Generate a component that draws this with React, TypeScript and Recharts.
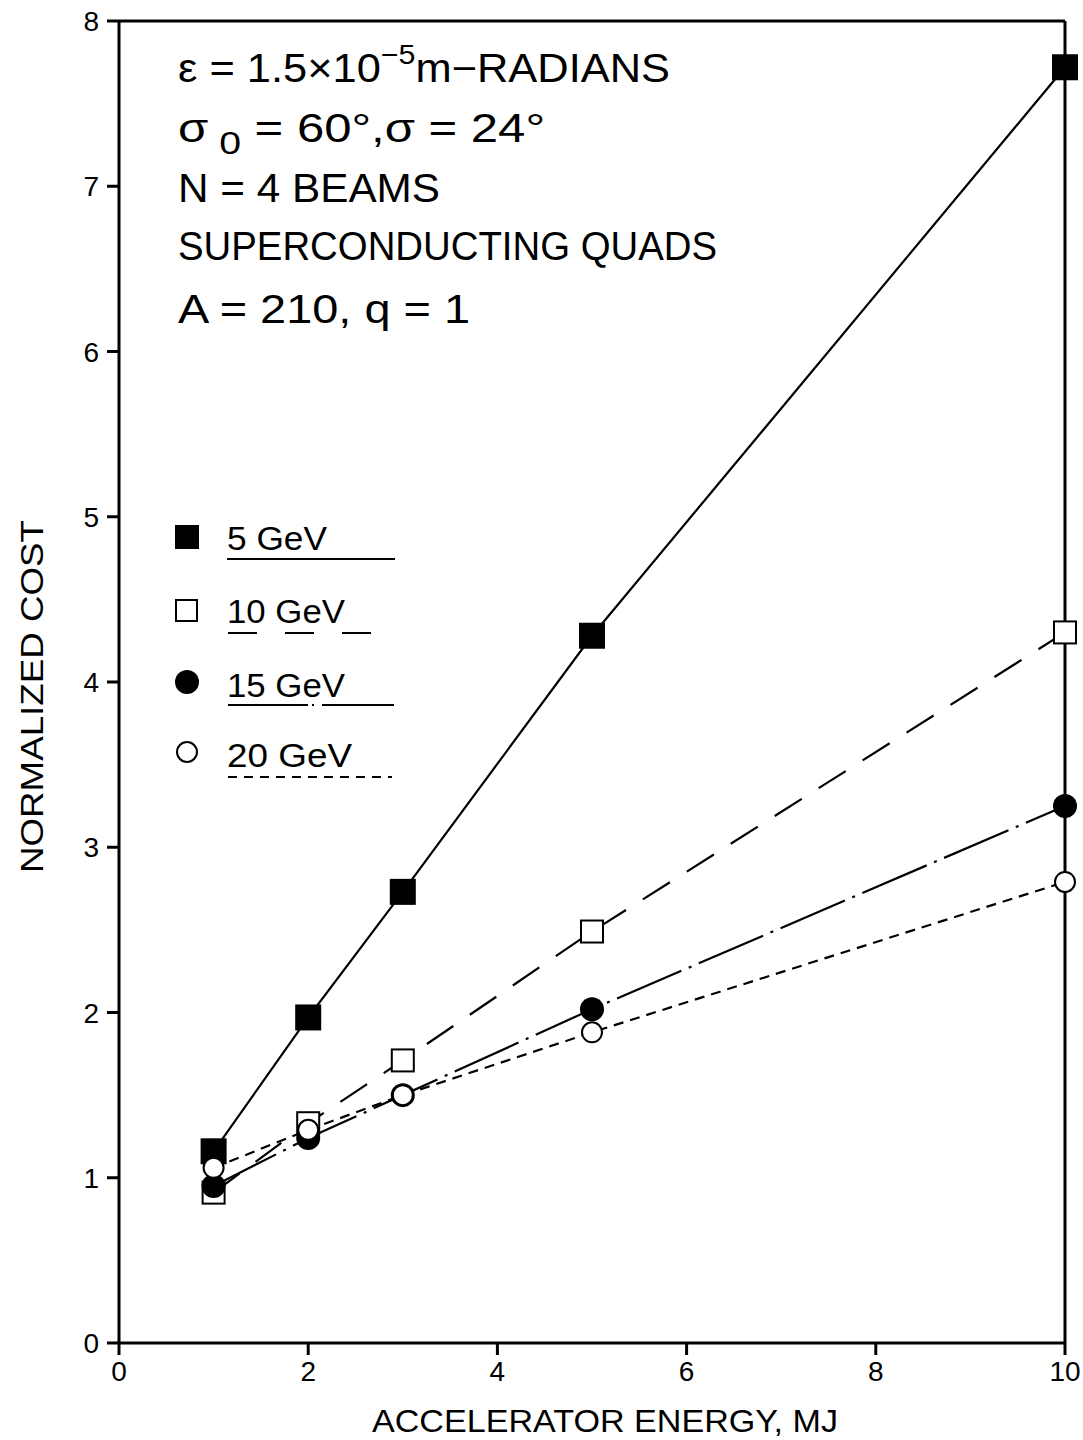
import { LineChart, Line, XAxis, YAxis, ReferenceLine } from 'recharts'

const energyMJ = [1, 2, 3, 5, 10]
const cost5GeV = [1.16, 1.97, 2.73, 4.28, 7.72]
const cost10GeV = [0.91, 1.33, 1.71, 2.49, 4.3]
const cost15GeV = [0.95, 1.24, 1.5, 2.02, 3.25]
const cost20GeV = [1.06, 1.29, 1.5, 1.88, 2.79]
const xTicks = [0, 2, 4, 6, 8, 10]
const yTicks = [0, 1, 2, 3, 4, 5, 6, 7, 8]

const data = energyMJ.map((x, i) => ({
  x,
  g5: cost5GeV[i],
  g10: cost10GeV[i],
  g15: cost15GeV[i],
  g20: cost20GeV[i],
}))

const FONT = '"Liberation Sans", Arial, sans-serif'
const DASH10 = '32 20'
const DASH15 = '70 8 3 8'
const DASH20 = '10 7'

const FilledSquare = (p: any) => (
  <rect key={p.key} x={p.cx - 13} y={p.cy - 13} width={26} height={26} fill="#000" />
)
const OpenSquare = (p: any) => (
  <rect key={p.key} x={p.cx - 11} y={p.cy - 11} width={22} height={22} fill="#fff" stroke="#000" strokeWidth={2} />
)
const FilledCircle = (p: any) => <circle key={p.key} cx={p.cx} cy={p.cy} r={12} fill="#000" />
const OpenCircle = (p: any) => (
  <circle key={p.key} cx={p.cx} cy={p.cy} r={10} fill="#fff" stroke="#000" strokeWidth={2} />
)

const XTick = (p: any) => (
  <text x={p.x} y={p.y} dy={20} textAnchor="middle" fontSize={28} fontFamily={FONT} fill="#000">
    {p.payload.value}
  </text>
)
const YTick = (p: any) => (
  <text x={p.x} y={p.y} dy={10} textAnchor="end" fontSize={28} fontFamily={FONT} fill="#000">
    {p.payload.value}
  </text>
)

function Overlay() {
  const txt = { fontFamily: FONT, fill: '#000' } as const
  return (
    <svg
      width={1083}
      height={1440}
      style={{ position: 'absolute', left: 0, top: 0, pointerEvents: 'none' }}
    >
      {/* parameter block */}
      <g {...txt} fontSize={40}>
        <text x={178} y={82} textLength={492} lengthAdjust="spacingAndGlyphs">
          ε = 1.5×10
          <tspan dy={-18} fontSize={28}>−5</tspan>
          <tspan dy={18}>m−RADIANS</tspan>
        </text>
        <text x={178} y={142} textLength={367} lengthAdjust="spacingAndGlyphs">
          σ
          <tspan dy={12} fontSize={32}> 0</tspan>
          <tspan dy={-12}> = 60°,σ = 24°</tspan>
        </text>
        <text x={178} y={202} textLength={262} lengthAdjust="spacingAndGlyphs">
          N = 4 BEAMS
        </text>
        <text x={178} y={260} textLength={539} lengthAdjust="spacingAndGlyphs">
          SUPERCONDUCTING QUADS
        </text>
        <text x={178} y={323} textLength={292} lengthAdjust="spacingAndGlyphs">
          A = 210, q = 1
        </text>
      </g>

      {/* legend */}
      <g {...txt} fontSize={34}>
        <rect x={175} y={525} width={24} height={24} fill="#000" />
        <text x={227} y={550} textLength={100} lengthAdjust="spacingAndGlyphs">5 GeV</text>
        <line x1={227} y1={559} x2={395} y2={559} stroke="#000" strokeWidth={2} />

        <rect x={176} y={600} width={21} height={21} fill="#fff" stroke="#000" strokeWidth={2} />
        <text x={227} y={623} textLength={118} lengthAdjust="spacingAndGlyphs">10 GeV</text>
        <line x1={228} y1={633} x2={372} y2={633} stroke="#000" strokeWidth={2} strokeDasharray="29 28" />

        <circle cx={187} cy={682} r={12} fill="#000" />
        <text x={227} y={697} textLength={118} lengthAdjust="spacingAndGlyphs">15 GeV</text>
        <line x1={228} y1={705} x2={394} y2={705} stroke="#000" strokeWidth={2} strokeDasharray="80 4 2 8" />

        <circle cx={187} cy={752} r={10} fill="#fff" stroke="#000" strokeWidth={2} />
        <text x={227} y={767} textLength={125} lengthAdjust="spacingAndGlyphs">20 GeV</text>
        <line x1={228} y1={777} x2={392} y2={777} stroke="#000" strokeWidth={2} strokeDasharray="9 7" />
      </g>

      {/* axis titles */}
      <text
        {...txt}
        fontSize={32}
        x={372}
        y={1432}
        textLength={466}
        lengthAdjust="spacingAndGlyphs"
      >
        ACCELERATOR ENERGY, MJ
      </text>
      <text
        {...txt}
        fontSize={32}
        transform="translate(43 873) rotate(-90)"
        x={0}
        y={0}
        textLength={353}
        lengthAdjust="spacingAndGlyphs"
      >
        NORMALIZED COST
      </text>
    </svg>
  )
}

export default function App() {
  return (
    <div style={{ position: 'relative', width: 1083, height: 1440, background: '#fff' }}>
      <style>{'body{margin:0;background:#fff}'}</style>
      <LineChart
        width={1083}
        height={1440}
        data={data}
        margin={{ top: 21, right: 18, bottom: 0, left: 0 }}
      >
        <XAxis
          type="number"
          dataKey="x"
          domain={[0, 10]}
          ticks={xTicks}
          height={97}
          stroke="#000"
          strokeWidth={3}
          tickSize={12}
          tick={XTick}
          tickMargin={6}
        />
        <YAxis
          type="number"
          domain={[0, 8]}
          ticks={yTicks}
          width={119}
          stroke="#000"
          strokeWidth={3}
          tickSize={12}
          tick={YTick}
          tickMargin={8}
        />
        <ReferenceLine y={8} stroke="#000" strokeWidth={3} />
        <ReferenceLine x={10} stroke="#000" strokeWidth={3} />
        <Line
          dataKey="g5"
          stroke="#000"
          strokeWidth={2.2}
          dot={FilledSquare}
          isAnimationActive={false}
        />
        <Line
          dataKey="g10"
          stroke="#000"
          strokeWidth={2.2}
          strokeDasharray={DASH10}
          dot={OpenSquare}
          isAnimationActive={false}
        />
        <Line
          dataKey="g15"
          stroke="#000"
          strokeWidth={2.2}
          strokeDasharray={DASH15}
          dot={FilledCircle}
          isAnimationActive={false}
        />
        <Line
          dataKey="g20"
          stroke="#000"
          strokeWidth={2.2}
          strokeDasharray={DASH20}
          dot={OpenCircle}
          isAnimationActive={false}
        />
      </LineChart>
      <Overlay />
    </div>
  )
}
